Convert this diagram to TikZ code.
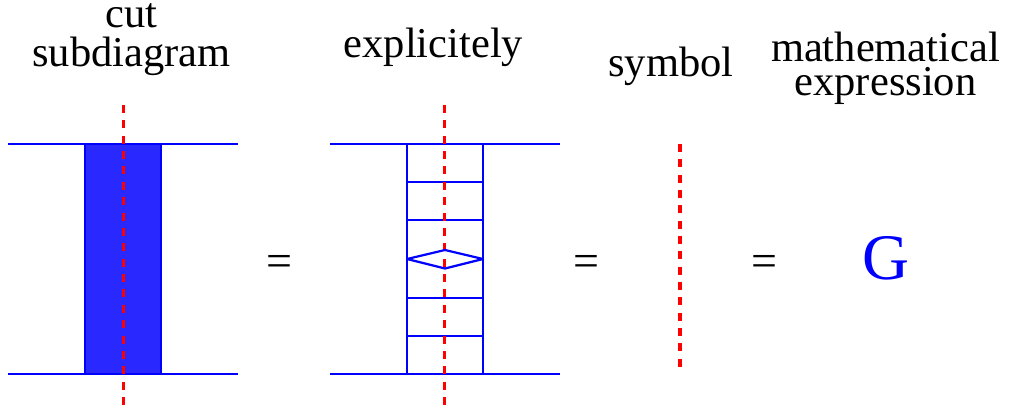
\documentclass[tikz,border=0pt]{standalone}
\usepackage{fontspec}
\setmainfont{Liberation Serif}
\definecolor{bl}{RGB}{0,0,255}
\definecolor{fillb}{RGB}{40,40,255}
\definecolor{rd}{RGB}{255,0,0}
\tikzset{x=1pt,y=-1pt,
 bline/.style={draw=bl,line width=2.2pt,line join=round},
 cut/.style={draw=rd,line width=3pt,dash pattern=on 8pt off 7.37pt},
 sym/.style={draw=rd,line width=4pt,dash pattern=on 8pt off 7.33pt},
 lab/.style={font=\fontsize{42.5}{39}\selectfont,inner sep=0pt,align=center,text=black},
 labm/.style={font=\fontsize{42.5}{34}\selectfont,inner sep=0pt,align=center,text=black},
 eq/.style={font=\fontsize{46}{46}\selectfont,inner sep=0pt,text=black}}
\begin{document}
\begin{tikzpicture}
\useasboundingbox (0,0) rectangle (1013,408);
% left
\fill[fillb] (85,144) rectangle (161,374);
\draw[bline] (85,144) -- (85,374) (161,144) -- (161,374);
\coordinate (a1) at (8,144); \coordinate (a2) at (238,144);
\coordinate (a3) at (8,374); \coordinate (a4) at (238,374);
\draw[bline] (a1) -- (a2); \draw[bline] (a3) -- (a4);
\coordinate (c1) at (123,105); \coordinate (c2) at (123,406);
\draw[cut] (c1) -- (c2);
% middle
\coordinate (b1) at (330,144); \coordinate (b2) at (560,144);
\coordinate (b3) at (330,374); \coordinate (b4) at (560,374);
\draw[bline] (b1) -- (b2); \draw[bline] (b3) -- (b4);
\draw[bline] (407,144) -- (407,374) (483,144) -- (483,374);
\foreach \y in {182,220,298,336} \draw[bline] (407,\y) -- (483,\y);
\coordinate (d1) at (444.7,105); \coordinate (d2) at (444.7,406);
\draw[cut] (d1) -- (d2);
\draw[bline] (407,259) -- (445,250) -- (483,259) -- (445,268.5) -- cycle;
% symbol
\coordinate (e1) at (680,144); \coordinate (e2) at (680,367);
\draw[sym] (e1) -- (e2);
% text
\node[lab] (t1) at (131.5,40) {cut\\subdiagram};
\node[lab] (t2) at (433.5,47.5) {explicitely};
\node[lab] (t3) at (671,66) {symbol};
\node[labm] (t4) at (885.5,68.5) {mathematical\\expression};
\node[eq] (q1) at (279,266) {=};
\node[eq] (q2) at (586,266) {=};
\node[eq] (q3) at (764,266) {=};
\node[font=\fontsize{65}{65}\selectfont,text=bl,inner sep=0pt] (g) at (886,258) {G};
\end{tikzpicture}
\end{document}
